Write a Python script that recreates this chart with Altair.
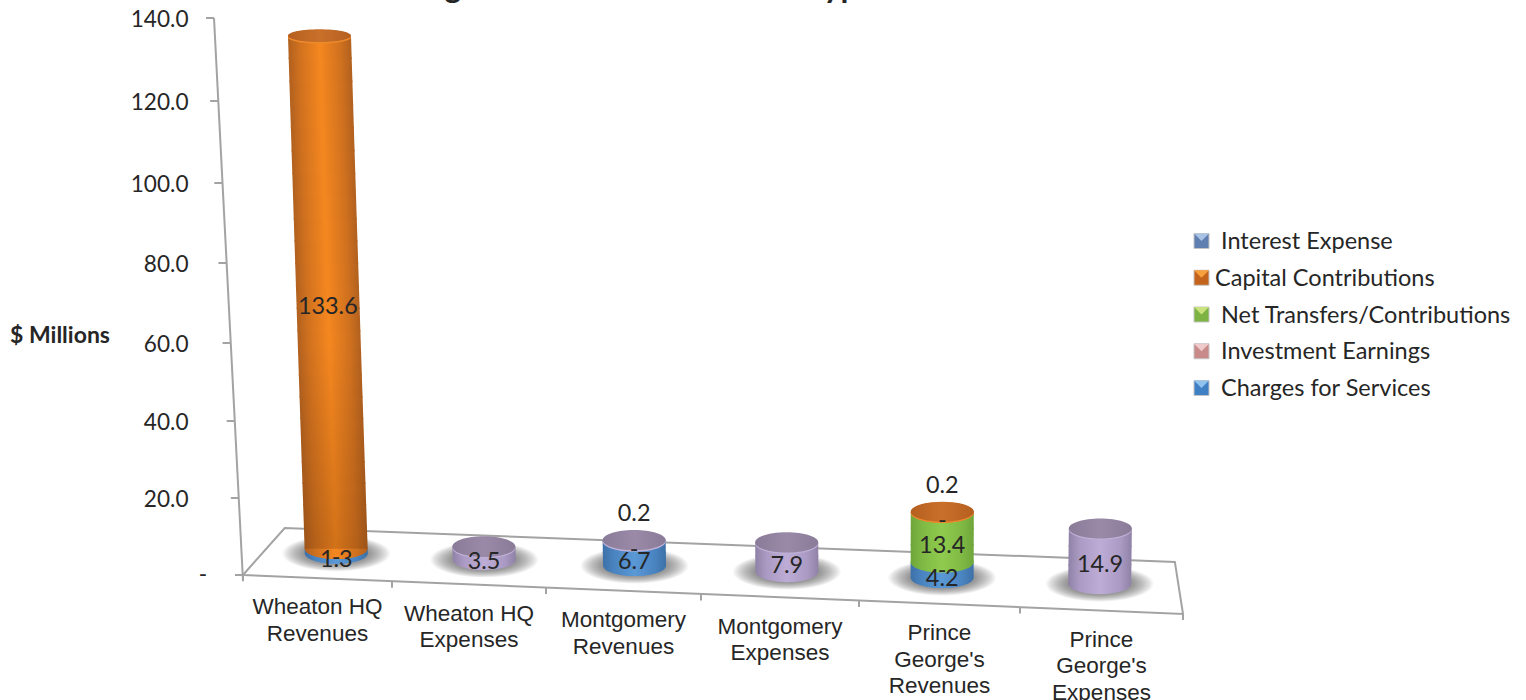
import math
import altair as alt
import pandas as pd

# Chart values
categories = [
    "Wheaton HQ\nRevenues", "Wheaton HQ\nExpenses", "Montgomery\nRevenues",
    "Montgomery\nExpenses", "Prince\nGeorge's\nRevenues", "Prince\nGeorge's\nExpenses",
]
charges_for_services = [1.3, None, 6.7, None, 4.2, None]
investment_earnings = [0.0, None, 0.0, None, 0.0, None]
net_transfers = [None, None, None, None, 13.4, None]
interest_expense = [None, None, None, None, 0.0, None]
capital_contributions = [133.6, None, None, None, 0.2, None]
operating_expenses = [None, 3.5, 0.2, 7.9, None, 14.9]

y_ticks = [20, 40, 60, 80, 100, 120, 140]
legend_labels = ["Interest Expense", "Capital Contributions", "Net Transfers/Contributions",
                 "Investment Earnings", "Charges for Services"]
title_pieces = ["g", "Type"]

# Palette
FONT = "Lato"
TEXT = "#262626"
LINE = "#a3a3a3"
legend_dark = ["#5f7fb0", "#c4641c", "#7db343", "#c98a8a", "#3f80c4"]
legend_light = ["#a9c3e4", "#f8a13c", "#c9e27c", "#f0caca", "#90c2ee"]


def side(edge, mid, centre):
    return alt.Gradient(
        gradient="linear", x1=0, x2=1, y1=0, y2=0,
        stops=[
            alt.GradientStop(color=edge, offset=0),
            alt.GradientStop(color=mid, offset=0.18),
            alt.GradientStop(color=centre, offset=0.5),
            alt.GradientStop(color=mid, offset=0.82),
            alt.GradientStop(color=edge, offset=1),
        ],
    )


def cap_fill(edge, centre):
    return alt.Gradient(
        gradient="linear", x1=0, x2=1, y1=0, y2=0,
        stops=[
            alt.GradientStop(color=edge, offset=0),
            alt.GradientStop(color=centre, offset=0.5),
            alt.GradientStop(color=edge, offset=1),
        ],
    )


# Each entry: values, side shading, top cap, highlight under the cap's front edge
stack_order = [
    (charges_for_services, side("#3d70a8", "#4a84c0", "#5a98d6"), cap_fill("#4078b0", "#4f86c0"), "#5a98d6"),
    (investment_earnings, side("#b98080", "#cf9a9a", "#e0b0b0"), cap_fill("#a98080", "#b98f8f"), "#e0b0b0"),
    (net_transfers, side("#6ea53a", "#7fb944", "#8fcb4e"), cap_fill("#6e9a3c", "#7aa844"), "#8fcb4e"),
    (interest_expense, side("#4f6f9f", "#6382b0", "#7593c0"), cap_fill("#4f6f9f", "#5d7ba8"), "#7593c0"),
    (capital_contributions, side("#b0601f", "#d0711f", "#f5871f"), cap_fill("#b55f20", "#c9702a"), "#ee8a2c"),
    (operating_expenses, side("#8f81a6", "#ab9bc4", "#bdadd6"), cap_fill("#8a7b98", "#9a8aa8"), "#bfb0d6"),
]

# Scales follow the tilted floor: cells widen and value steps shrink toward the bottom
x_range = [243, 392, 546, 701, 859, 1020, 1183]
y_domain = [0, 20, 40, 60, 80, 100, 120, 140]
y_range = [575, 498, 421, 343, 263, 183, 101, 18]
X_SCALE = alt.Scale(domain=list(range(7)), range=x_range)
Y_SCALE = alt.Scale(domain=y_domain, range=y_range)

FRONT_DROP = 10.1        # value units the front edge falls from left to right
BACK_LIFT = (12.2, 13.5)  # height of back edge over front edge, left and right
BACK_SHIFT = (0.28, -0.05)
AXIS_LEAN = (-0.00095, 0.0004)
VALUE_GAIN = 0.965
CYL_RX = 31.5


def ellipse(r):
    k = 0.5523 * r
    return (f"M-1,0C-1,{-k:.3f},-.552,{-r:.3f},0,{-r:.3f}C.552,{-r:.3f},1,{-k:.3f},1,0"
            f"C1,{k:.3f},.552,{r:.3f},0,{r:.3f}C-.552,{r:.3f},-1,{k:.3f},-1,0Z")


BASE_RATIO = 0.33
SHADOW_RATIO = 0.33


def cap_ratio(height):
    # Cylinder tops flatten as they rise toward eye level
    return BASE_RATIO - 0.00095 * height


def lerp(pair, t):
    return pair[0] + (pair[1] - pair[0]) * t


def floor_x(cat, depth):
    return cat + depth * lerp(BACK_SHIFT, cat / 6)


def floor_y(cat, depth):
    return -FRONT_DROP * cat / 6 + depth * lerp(BACK_LIFT, cat / 6)


def centre_x(i, height):
    cat = i + 0.5
    return floor_x(cat, 0.5) + lerp(AXIS_LEAN, cat / 6) * height


def base_y(i):
    return floor_y(i + 0.5, 0.52)


def half_w(i):
    return CYL_RX / (x_range[i + 1] - x_range[i])


x_enc = alt.X("x:Q", scale=X_SCALE, axis=None)
y_enc = alt.Y("y:Q", scale=Y_SCALE, axis=None)

# Floor outline and leaning value axis
frame_rows = []
outline = [(0, 0), (6, 0), (6, 1), (0, 1), (0, 0)]
for s, (c, d) in enumerate(outline):
    frame_rows.append({"x": floor_x(c, d), "y": floor_y(c, d), "seq": s})
frame = alt.Chart(pd.DataFrame(frame_rows)).mark_line(color=LINE, strokeWidth=2).encode(
    x=x_enc,
    y=alt.Y("y:Q", scale=Y_SCALE, title=None,
            axis=alt.Axis(values=y_ticks, offset=-188, domain=False, ticks=False, grid=False,
                          labelPadding=0, labelFont=FONT, labelFontSize=22.6, labelColor=TEXT,
                          format=".1f", labelOverlap=False, labelFlush=False, labelOffset=1)),
    order="seq:Q",
)
axis_line = alt.Chart(pd.DataFrame([
    {"x": -0.00139 * 0, "y": -1.5, "seq": 0},
    {"x": -0.00139 * 140, "y": 140, "seq": 1},
])).mark_line(color=LINE, strokeWidth=2).encode(x=x_enc, y=y_enc, order="seq:Q")

left_ticks = pd.DataFrame([
    {"x": -0.00139 * v - 8 / 149, "x2": -0.00139 * v, "y": v} for v in [0] + y_ticks
])
left_tick_marks = alt.Chart(left_ticks).mark_rule(color=LINE, strokeWidth=2).encode(
    x=x_enc, x2="x2:Q", y=y_enc)

front_ticks = pd.DataFrame([
    {"x": c, "y": floor_y(c, 0), "y2": floor_y(c, 0) - 1.6} for c in range(7)
])
front_tick_marks = alt.Chart(front_ticks).mark_rule(color=LINE, strokeWidth=2).encode(
    x=x_enc, y=y_enc, y2="y2:Q")

# Soft floor shadow built from nested translucent ellipses
shadow_rows = []
for i in range(len(categories)):
    for rx in range(33, 55):
        shadow_rows.append({"x": centre_x(i, 0), "y": base_y(i), "size": (2 * rx) ** 2})
shadow = alt.Chart(pd.DataFrame(shadow_rows)).mark_point(
    shape=ellipse(SHADOW_RATIO), filled=True, fill="#4a4a4a", opacity=0.032, strokeWidth=0
).encode(x=x_enc, y=y_enc, size=alt.Size("size:Q", scale=None, legend=None))

# Cylinder pieces, stacked from the floor upward
cumulative = [0.0] * len(categories)
top_series = {}
for idx, (series, _, _, _) in enumerate(stack_order):
    for i, v in enumerate(series):
        if v:
            top_series[i] = idx

cyl_layers = []
value_labels = []
for idx, (series, gradient, cap, glow) in enumerate(stack_order):
    slabs, rims, dim = [], [], []
    cap_layers = []
    for i, v in enumerate(series):
        if v is None:
            continue
        low = cumulative[i]
        high = low + v
        cumulative[i] = high
        mid = (low + high) / 2
        if v == 0:
            value_labels.append({"x": centre_x(i, low), "y": base_y(i) + VALUE_GAIN * low,
                                 "text": "-", "place": "in"})
            continue
        above = v < 1
        value_labels.append({
            "x": centre_x(i, high if above else mid),
            "y": base_y(i) + VALUE_GAIN * (high if above else mid),
            "text": f"{v:.1f}",
            "place": "above" if above else "in",
        })
        pieces = max(1, math.ceil(v / 6))
        for p in range(pieces):
            a = low + v * p / pieces
            b = low + v * (p + 1) / pieces
            for h in (a, b + (0.4 if p < pieces - 1 else 0)):
                slabs.append({
                    "slab": f"{i}-{p}",
                    "x": centre_x(i, h) - half_w(i),
                    "x2": centre_x(i, h) + half_w(i),
                    "y": base_y(i) + VALUE_GAIN * h,
                })
        rims.append({"x": centre_x(i, low), "y": base_y(i) + VALUE_GAIN * low})
        if v > 50:
            # The tall cylinder darkens toward the floor
            for h in (low, low + 55):
                dim.append({
                    "x": centre_x(i, h) - half_w(i),
                    "x2": centre_x(i, h) + half_w(i),
                    "y": base_y(i) + VALUE_GAIN * h,
                })
        if top_series.get(i) == idx:
            cap_row = pd.DataFrame([{"x": centre_x(i, high), "y": base_y(i) + VALUE_GAIN * high}])
            glow_row = pd.DataFrame([{"x": centre_x(i, high), "y": base_y(i) + VALUE_GAIN * high - 0.35}])
            shape = ellipse(cap_ratio(high))
            cap_layers.append(alt.Chart(glow_row).mark_point(
                shape=shape, filled=True, fill=glow, opacity=1, strokeWidth=0,
                size=(2 * CYL_RX) ** 2,
            ).encode(x=x_enc, y=y_enc))
            cap_layers.append(alt.Chart(cap_row).mark_point(
                shape=shape, filled=True, fill=cap, opacity=1, strokeWidth=0,
                size=(2 * CYL_RX) ** 2,
            ).encode(x=x_enc, y=y_enc))
    if rims:
        cyl_layers.append(alt.Chart(pd.DataFrame(rims)).mark_point(
            shape=ellipse(BASE_RATIO), filled=True, fill=gradient, opacity=1, strokeWidth=0,
            size=(2 * CYL_RX) ** 2,
        ).encode(x=x_enc, y=y_enc))
    if slabs:
        cyl_layers.append(alt.Chart(pd.DataFrame(slabs)).mark_area(
            orient="horizontal", fill=gradient, opacity=1,
        ).encode(
            x=alt.X("x:Q", scale=X_SCALE, axis=None, stack=None),
            x2="x2:Q",
            y=y_enc,
            detail="slab:N",
        ))
    if dim:
        cyl_layers.append(alt.Chart(pd.DataFrame(dim)).mark_area(
            orient="horizontal",
            fill=alt.Gradient(
                gradient="linear", x1=0, x2=0, y1=0, y2=1,
                stops=[
                    alt.GradientStop(color="rgba(70,30,0,0)", offset=0),
                    alt.GradientStop(color="rgba(70,30,0,0.2)", offset=1),
                ],
            ),
        ).encode(
            x=alt.X("x:Q", scale=X_SCALE, axis=None, stack=None),
            x2="x2:Q",
            y=y_enc,
        ))
    cyl_layers.extend(cap_layers)

labels_df = pd.DataFrame(value_labels)
labels_in = alt.Chart(labels_df[labels_df["place"] == "in"]).mark_text(
    font=FONT, fontSize=23.4, color=TEXT, baseline="middle", align="center", dy=9,
).encode(x=x_enc, y=y_enc, text="text:N")
labels_above = alt.Chart(labels_df[labels_df["place"] == "above"]).mark_text(
    font=FONT, fontSize=23.4, color=TEXT, baseline="middle", align="center", dy=-26,
).encode(x=x_enc, y=y_enc, text="text:N")

# Category labels hang under the front edge
cat_df = pd.DataFrame([
    {"x": i + 0.5, "y": floor_y(i + 0.5, 0), "text": c} for i, c in enumerate(categories)
])
cat_labels = alt.Chart(cat_df).mark_text(
    font="Liberation Sans", fontSize=22.5, color=TEXT, baseline="top", align="center",
    lineBreak="\n", lineHeight=26.5, dy=18,
).encode(x=x_enc, y=y_enc, text="text:N")

# Zero tick on the value axis uses a dash instead of a number
zero_dash = alt.Chart(pd.DataFrame([{"y": 0, "text": "-"}])).mark_text(
    font=FONT, fontSize=22.6, color=TEXT, align="center", baseline="middle",
).encode(x=alt.value(203), y=y_enc, text="text:N")

axis_title = alt.Chart(pd.DataFrame([{"text": "$ Millions"}])).mark_text(
    font=FONT, fontSize=23, fontWeight="bold", color=TEXT, align="center", baseline="middle",
).encode(x=alt.value(60), y=alt.value(336), text="text:N")

title_left = alt.Chart(pd.DataFrame([{"text": title_pieces[0]}])).mark_text(
    font=FONT, fontSize=32, fontWeight="bold", color=TEXT, align="center", baseline="alphabetic",
).encode(x=alt.value(453), y=alt.value(-2), text="text:N")
title_right = alt.Chart(pd.DataFrame([{"text": title_pieces[1]}])).mark_text(
    font=FONT, fontSize=32, fontWeight="bold", color=TEXT, align="left", baseline="alphabetic",
).encode(x=alt.value(807), y=alt.value(-2), text="text:N")

# Legend rows
legend_df = pd.DataFrame({
    "row": list(range(len(legend_labels))),
    "label": legend_labels,
    "dark": legend_dark,
    "light": legend_light,
})
row_y = alt.Y("row:Q", scale=alt.Scale(domain=[0, 4], range=[241, 388]), axis=None)
legend_square = alt.Chart(legend_df).mark_point(
    shape="square", filled=True, opacity=1, size=225, stroke="#c4c4c4", strokeWidth=1,
).encode(x=alt.value(1201.5), y=row_y, fill=alt.Fill("dark:N", scale=None, legend=None))
legend_wedge = alt.Chart(legend_df).mark_point(
    shape="M-1,-1L1,-1L0,0Z", filled=True, opacity=1, size=225, strokeWidth=0,
).encode(x=alt.value(1201.5), y=row_y, fill=alt.Fill("light:N", scale=None, legend=None))
legend_text = alt.Chart(legend_df[legend_df["row"] != 1]).mark_text(
    font=FONT, fontSize=23.5, color=TEXT, align="left", baseline="middle", dy=1,
).encode(x=alt.value(1221), y=row_y, text="label:N")
legend_text_tight = alt.Chart(legend_df[legend_df["row"] == 1]).mark_text(
    font=FONT, fontSize=23.5, color=TEXT, align="left", baseline="middle", dy=1,
).encode(x=alt.value(1215), y=row_y, text="label:N")

chart = alt.layer(
    frame, axis_line, left_tick_marks, front_tick_marks, shadow,
    *cyl_layers,
    labels_in, labels_above, cat_labels, zero_dash, axis_title, title_left, title_right,
    legend_square, legend_wedge, legend_text, legend_text_tight,
).resolve_scale(y="independent").properties(
    width=1526, height=700, padding=0, background="white",
    autosize=alt.AutoSizeParams(type="none"),
).configure_view(stroke=None)

chart.save("out.html", embed_options={"renderer": "svg", "actions": False})
